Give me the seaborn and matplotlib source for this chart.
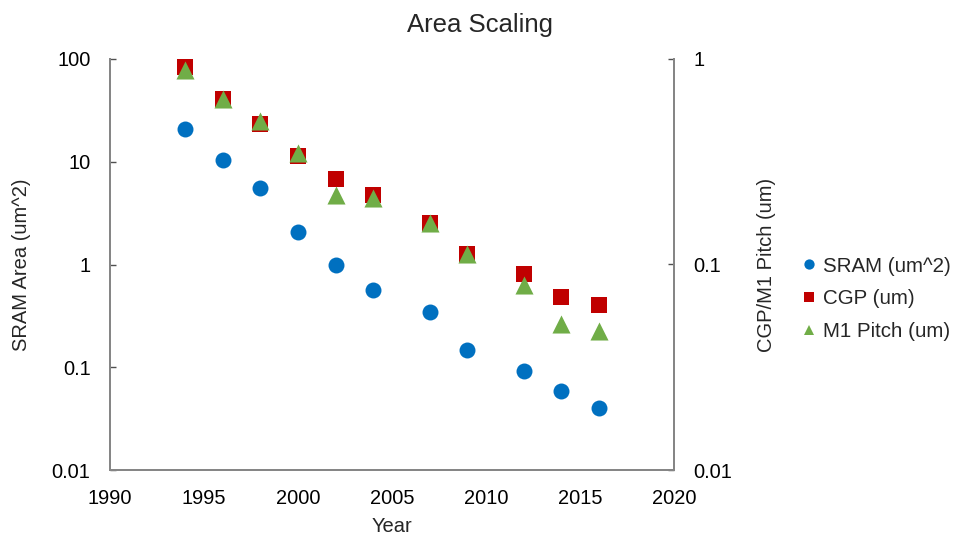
import matplotlib
matplotlib.use("Agg")
import matplotlib.pyplot as plt
import seaborn as sns
import pandas as pd
from matplotlib.ticker import FixedLocator, FixedFormatter, NullLocator
from matplotlib.lines import Line2D

# ---- data ----
years = [1994, 1996, 1998, 2000, 2002, 2004, 2007, 2009, 2012, 2014, 2016]
sram_area = [20.8, 10.3, 5.6, 2.08, 1.0, 0.57, 0.342, 0.147, 0.091, 0.0585, 0.040]
cgp = [0.918, 0.64, 0.484, 0.337, 0.261, 0.219, 0.159, 0.112, 0.0897, 0.0697, 0.0637]
m1_pitch = [0.881, 0.641, 0.499, 0.349, 0.219, 0.210, 0.160, 0.112, 0.0796, 0.0514, 0.0475]

left_ticks = [0.01, 0.1, 1, 10, 100]
left_labels = ["0.01", "0.1", "1", "10", "100"]
right_ticks = [0.01, 0.1, 1]
right_labels = ["0.01", "0.1", "1"]
x_ticks = [1990, 1995, 2000, 2005, 2010, 2015, 2020]

series_names = ["SRAM (um^2)", "CGP (um)", "M1 Pitch (um)"]
colors = ["#0070C0", "#C00000", "#70AD47"]

sns.set_style("white")
plt.rcParams["font.family"] = ["Liberation Sans", "DejaVu Sans"]
plt.rcParams["font.size"] = 14.5

df_left = pd.DataFrame({"Year": years, "val": sram_area})
df_cgp = pd.DataFrame({"Year": years, "val": cgp})
df_m1 = pd.DataFrame({"Year": years, "val": m1_pitch})

fig = plt.figure(figsize=(9.6, 5.4), dpi=100)
ax = fig.add_axes([110 / 960, 1 - 470 / 540, (674 - 110) / 960, (470 - 59) / 540])
ax2 = ax.twinx()

sns.scatterplot(data=df_left, x="Year", y="val", ax=ax, marker="o", s=132,
                color=colors[0], linewidth=0, legend=False, zorder=3)
sns.scatterplot(data=df_cgp, x="Year", y="val", ax=ax2, marker="s", s=117,
                color=colors[1], linewidth=0, legend=False, zorder=3)
sns.scatterplot(data=df_m1, x="Year", y="val", ax=ax2, marker="^", s=169,
                color=colors[2], linewidth=0, legend=False, zorder=4)

ax.set_yscale("log")
ax2.set_yscale("log")
ax.set_ylim(0.01, 100)
ax2.set_ylim(0.01, 1)
ax.set_xlim(1990, 2020)

ax.yaxis.set_major_locator(FixedLocator(left_ticks))
ax.yaxis.set_major_formatter(FixedFormatter(left_labels))
ax.yaxis.set_minor_locator(NullLocator())
ax2.yaxis.set_major_locator(FixedLocator(right_ticks))
ax2.yaxis.set_major_formatter(FixedFormatter(right_labels))
ax2.yaxis.set_minor_locator(NullLocator())
ax.set_xticks(x_ticks)
ax.set_xticklabels([str(t) for t in x_ticks])

spine_col = "#868686"
for a in (ax, ax2):
    for sp in a.spines.values():
        sp.set_color(spine_col)
        sp.set_linewidth(1.4)
    a.tick_params(axis="both", direction="in", length=4.5, width=1,
                  color="#505050", labelsize=14.4, labelcolor="black", pad=14)
ax.spines["top"].set_visible(False)
ax2.spines["top"].set_visible(False)

ax.set_xlabel("Year", fontsize=14.5, labelpad=6)
ax.set_ylabel("SRAM Area (um^2)", fontsize=14.5)
ax.yaxis.set_label_coords((31 - 110) / 564, 0.5)
ax2.set_ylabel("CGP/M1 Pitch (um)", fontsize=14.5)
ax2.yaxis.set_label_coords((757 - 110) / 564, 0.5)
fig.text(0.5, 1 - 32 / 540, "Area Scaling", fontsize=18.5, ha="center", va="baseline")

handles = [
    Line2D([], [], marker="o", linestyle="none", color=colors[0], markersize=7.4, markeredgewidth=0),
    Line2D([], [], marker="s", linestyle="none", color=colors[1], markersize=7.6, markeredgewidth=0),
    Line2D([], [], marker="^", linestyle="none", color=colors[2], markersize=7.8, markeredgewidth=0),
]
fig.legend(handles, series_names, loc="center left", bbox_to_anchor=(803 / 960, 1 - 299 / 540),
           frameon=False, fontsize=14.8, handlelength=0.6, handletextpad=0.35,
           labelspacing=0.68, borderpad=0, borderaxespad=0)

fig.savefig("out.png", dpi=100)
